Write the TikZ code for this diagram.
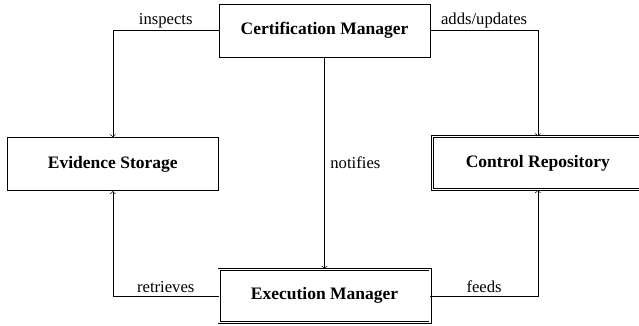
\documentclass[tikz,border=0pt]{standalone}
\usepackage{fontspec}
\setmainfont{Liberation Serif}
\usetikzlibrary{positioning}

\begin{document}
\begin{tikzpicture}[->,x=0.6pt,y=-0.6pt,auto,thin]
        \tikzstyle{block}=[draw=black,text=black,minimum width=126.6pt,minimum height=31.8pt,font=\fontsize{10.5}{12}\selectfont\bfseries]
        \tikzstyle{dblock}=[block,double,double distance=1pt]
        \tikzstyle{lbl}=[above,inner sep=1.5pt]

        \useasboundingbox (0,0) rectangle (639,326);

        \node[block] (cert) at (324.5,30.5) {Certification Manager};
        \node[block] (evid) [below left=48pt and 0pt of cert] {Evidence Storage};
        \node[dblock] (ctrl) [below right=47.4pt and 1pt of cert] {Control Repository};
        \node[dblock] (exec) [below=127pt of cert] {Execution Manager};

        \draw (cert.west) -| node[pos=0.25,lbl] {inspects} (evid.north);
        \draw (cert.east) -| node[pos=0.25,lbl] {adds/updates} (ctrl.north);
        \draw (cert) -- node[right] {notifies} (exec);
        \draw (exec.west) -| node[pos=0.25,lbl] {retrieves} (evid.south);
        \draw (exec.east) -| node[pos=0.25,lbl] {feeds} (ctrl.south);
    \end{tikzpicture}
\end{document}
